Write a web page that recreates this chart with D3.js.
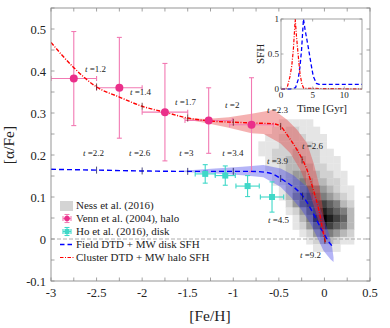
<!DOCTYPE html>
<html>
<head>
<meta charset="utf-8">
<script src="https://cdn.jsdelivr.net/npm/d3@7"></script>
<style>
  body { margin: 0; background: #fff; }
  svg text { font-family: "Liberation Serif", "DejaVu Serif", serif; fill: #222; }
</style>
</head>
<body>
<svg id="chart" width="390" height="328"></svg>
<script>
// model tracks in [Fe/H] vs [alpha/Fe]
const redFeh   = [-3, -2.75, -2.5, -2.25, -2, -1.75, -1.5, -1.25, -1, -0.75, -0.55, -0.48, -0.4, -0.3, -0.19, -0.12, -0.06, -0.01, 0.01];
const redAlpha = [0.468, 0.408, 0.362, 0.338, 0.316, 0.302, 0.288, 0.281, 0.278, 0.276, 0.274, 0.268, 0.245, 0.212, 0.164, 0.116, 0.068, 0.012, -0.008];
const blueFeh   = [-3, -2.5, -2, -1.5, -1, -0.8, -0.65, -0.55, -0.48, -0.4, -0.34, -0.23, -0.12, -0.025, 0.066, 0.1];
const blueAlpha = [0.166, 0.164, 0.162, 0.161, 0.161, 0.161, 0.159, 0.153, 0.144, 0.133, 0.124, 0.1, 0.06, 0.02, -0.012, -0.02];

// uncertainty bands, upper and lower edges as [feh, alpha]
const redBandUpper = [[-1.55, 0.288], [-1.3, 0.286], [-1.05, 0.29], [-0.8, 0.298], [-0.6, 0.306], [-0.557, 0.308], [-0.41, 0.284], [-0.3, 0.26], [-0.19, 0.228], [-0.117, 0.18], [-0.062, 0.132], [-0.025, 0.084], [0.003, 0.036], [0.019, 0.004]];
const redBandLower = [[-1.55, 0.286], [-1.3, 0.276], [-1.05, 0.265], [-0.8, 0.252], [-0.667, 0.25], [-0.484, 0.228], [-0.374, 0.204], [-0.264, 0.164], [-0.172, 0.116], [-0.1, 0.068], [-0.044, 0.028], [0.003, -0.004]];
const blueBandUpper = [[-1.6, 0.162], [-1.2, 0.168], [-0.9, 0.172], [-0.67, 0.176], [-0.48, 0.168], [-0.34, 0.152], [-0.19, 0.124], [-0.08, 0.092], [-0.01, 0.052], [0.05, 0.012], [0.085, -0.02], [0.1, -0.044]];
const blueBandLower = [[-1.6, 0.16], [-1.2, 0.156], [-0.9, 0.152], [-0.67, 0.147], [-0.48, 0.124], [-0.37, 0.1], [-0.26, 0.072], [-0.15, 0.036], [-0.08, 0.004], [-0.01, -0.028], [0.066, -0.048], [0.1, -0.055]];

// time markers along the tracks
const redMarkFeh  = [-2.5, -2, -1.5, -1, -0.48, -0.245, 0.005];
const blueMarkFeh = [-2.5, -2, -1.5, -1, -0.48, -0.24];
const redLabels  = [["1.2", -2.627, 0.398], ["1.4", -2.133, 0.343], ["1.7", -1.639, 0.319], ["2", -1.09, 0.312], ["2.3", -0.63, 0.3], ["2.6", -0.246, 0.214]];
const blueLabels = [["2.2", -2.65, 0.198], ["2.6", -2.143, 0.198], ["3", -1.594, 0.198], ["3.4", -1.12, 0.198], ["3.9", -0.63, 0.179], ["4.5", -0.619, 0.038], ["9.2", -0.268, -0.045]];

// Venn et al. (2004), halo
const vennFeh   = [-2.75, -2.25, -1.75, -1.27, -0.8];
const vennAlpha = [0.382, 0.36, 0.302, 0.282, 0.272];
const vennXerr  = [0.25, 0.25, 0.25, 0.26, 0.24];
const vennYerr  = [0.112, 0.12, 0.116, 0.078, 0.112];

// Ho et al. (2016), disk
const hoFeh   = [-1.308, -1.088, -0.843, -0.575];
const hoAlpha = [0.155, 0.151, 0.126, 0.1];
const hoXerr  = [0.11, 0.11, 0.128, 0.128];
const hoYerr  = [0.022, 0.023, 0.025, 0.036];

// Ness et al. (2016) density, rows from high to low [alpha/Fe]
const nessFeh0 = -0.8, nessDFeh = 0.075;
const nessAlpha0 = 0.285, nessDAlpha = 0.0175;
const nessGrid = [
  [0,0,0,0,1,1,1,1,1,0,0,0,0,0,0],
  [0,0,0,1,1,2,2,1,1,1,0,0,0,0,0],
  [0,0,1,1,2,2,2,2,1,1,1,0,0,0,0],
  [0,1,1,1,2,2,2,2,2,1,1,0,0,0,0],
  [0,1,1,2,2,2,3,2,2,2,1,1,0,0,0],
  [0,0,1,2,2,3,3,3,2,2,1,1,1,0,0],
  [0,0,1,1,2,3,3,3,3,2,2,1,1,0,0],
  [0,0,0,1,2,3,4,4,3,3,2,2,1,1,0],
  [0,0,0,1,2,3,4,5,4,3,3,2,2,1,0],
  [0,0,0,0,1,3,4,5,6,5,4,3,2,1,1],
  [0,0,0,0,1,3,5,6,7,6,5,4,3,2,1],
  [0,0,0,0,0,2,4,6,7,7,7,6,5,3,2],
  [0,0,0,0,0,1,2,4,6,7,8,7,6,5,3],
  [0,0,0,0,0,0,1,3,5,8,9,8,7,6,3],
  [0,0,0,0,0,0,1,2,4,6,8,7,6,5,3],
  [0,0,0,0,0,0,0,1,2,4,5,5,4,3,2],
  [0,0,0,0,0,0,0,0,1,2,3,3,2,1,1],
  [0,0,0,0,0,0,0,0,0,1,1,1,1,0,0]
];

// inset: star formation histories
const sfhRedT   = [0, 0.7, 1.0, 1.4, 1.7, 1.95, 2.15, 2.25, 2.45, 2.7, 3.0, 3.3, 3.6, 12.8];
const sfhRed    = [0, 0, 0.03, 0.17, 0.33, 0.56, 0.85, 1.0, 0.75, 0.5, 0.22, 0.07, 0.01, 0];
const sfhBlueT  = [0, 1.5, 2.3, 2.7, 3.0, 3.25, 3.55, 3.8, 4.3, 4.8, 5.1, 5.6, 6.0, 12.8];
const sfhBlue   = [0, 0, 0.02, 0.13, 0.32, 0.56, 1.0, 0.85, 0.6, 0.33, 0.18, 0.08, 0.065, 0.065];

const xTicks = d3.range(-3, 0.501, 0.25);
const yTicks = d3.range(-0.1, 0.551, 0.05);
const xLabels = [-3, -2.5, -2, -1.5, -1, -0.5, 0, 0.5];
const yLabels = [-0.1, 0, 0.1, 0.2, 0.3, 0.4, 0.5];

const legendItems = ["Ness et al. (2016)", "Venn et al. (2004), halo", "Ho et al. (2016), disk", "Field DTD + MW disk SFH", "Cluster DTD + MW halo SFH"];

const RED = "#ff0000", BLUE = "#0000ff", PINK = "#ea2f8a", PINK_BAR = "#f27ab3", TEAL = "#3fd8c8", FRAME = "#8a8a8a";

const svg = d3.select("#chart");
const x = d3.scaleLinear().domain([-3, 0.5]).range([51, 370]);
const y = d3.scaleLinear().domain([-0.1, 0.55]).range([281, 8]);

svg.append("defs").append("clipPath").attr("id", "plotclip")
  .append("rect").attr("x", 51).attr("y", 8).attr("width", 319).attr("height", 273);
const plot = svg.append("g").attr("clip-path", "url(#plotclip)");

// heat map
const cells = [];
nessGrid.forEach((row, i) => row.forEach((v, j) => {
  if (v > 0) cells.push({ i, j, v });
}));
plot.selectAll("rect.cell").data(cells).enter().append("rect")
  .attr("class", "cell")
  .attr("x", d => x(nessFeh0 + d.j * nessDFeh))
  .attr("y", d => y(nessAlpha0 - d.i * nessDAlpha))
  .attr("width", d => x(nessFeh0 + (d.j + 1) * nessDFeh) - x(nessFeh0 + d.j * nessDFeh) + 0.3)
  .attr("height", d => y(nessAlpha0 - (d.i + 1) * nessDAlpha) - y(nessAlpha0 - d.i * nessDAlpha) + 0.3)
  .attr("fill", d => d3.interpolateGreys(0.08 + 0.92 * d.v / 9));

// zero line
plot.append("line")
  .attr("x1", x(-3)).attr("x2", x(0.5)).attr("y1", y(0)).attr("y2", y(0))
  .attr("stroke", "#9a9a9a").attr("stroke-width", 0.8).attr("stroke-dasharray", "4,2");

// bands
const poly = d3.line().x(d => x(d[0])).y(d => y(d[1]));
plot.append("path")
  .attr("d", poly(blueBandUpper.concat(blueBandLower.slice().reverse())) + "Z")
  .attr("fill", "rgb(70,70,235)").attr("fill-opacity", 0.4);
plot.append("path")
  .attr("d", poly(redBandUpper.concat(redBandLower.slice().reverse())) + "Z")
  .attr("fill", "rgb(232,70,70)").attr("fill-opacity", 0.42);

// error bars helper
function errorBars(g, fehs, alphas, xe, ye, color) {
  fehs.forEach((f, k) => {
    const a = alphas[k];
    const segs = [
      [x(f - xe[k]), y(a), x(f + xe[k]), y(a)],
      [x(f), y(a - ye[k]), x(f), y(a + ye[k])],
      [x(f - xe[k]), y(a) - 2.5, x(f - xe[k]), y(a) + 2.5],
      [x(f + xe[k]), y(a) - 2.5, x(f + xe[k]), y(a) + 2.5],
      [x(f) - 2.5, y(a - ye[k]), x(f) + 2.5, y(a - ye[k])],
      [x(f) - 2.5, y(a + ye[k]), x(f) + 2.5, y(a + ye[k])]
    ];
    segs.forEach(s => g.append("line")
      .attr("x1", s[0]).attr("y1", s[1]).attr("x2", s[2]).attr("y2", s[3])
      .attr("stroke", color).attr("stroke-width", 1.1));
  });
}
errorBars(plot, hoFeh, hoAlpha, hoXerr, hoYerr, TEAL);
errorBars(plot, vennFeh, vennAlpha, vennXerr, vennYerr, PINK_BAR);

// model curves
const curve = d3.line().x(d => x(d[0])).y(d => y(d[1])).curve(d3.curveMonotoneX);
plot.append("path").datum(d3.zip(blueFeh, blueAlpha)).attr("d", curve)
  .attr("fill", "none").attr("stroke", BLUE).attr("stroke-width", 1.4).attr("stroke-dasharray", "5,3");
plot.append("path").datum(d3.zip(redFeh, redAlpha)).attr("d", curve)
  .attr("fill", "none").attr("stroke", RED).attr("stroke-width", 1.4).attr("stroke-dasharray", "4,1.5,1,1.5");

// markers
plot.selectAll("circle.venn").data(d3.zip(vennFeh, vennAlpha)).enter().append("circle")
  .attr("cx", d => x(d[0])).attr("cy", d => y(d[1])).attr("r", 4).attr("fill", PINK);
plot.selectAll("rect.ho").data(d3.zip(hoFeh, hoAlpha)).enter().append("rect")
  .attr("x", d => x(d[0]) - 3).attr("y", d => y(d[1]) - 3).attr("width", 6).attr("height", 6).attr("fill", TEAL);

// time markers on tracks
const interp = (xs, ys, v) => {
  const k = Math.max(1, Math.min(xs.length - 1, d3.bisectLeft(xs, v)));
  const t = (v - xs[k - 1]) / (xs[k] - xs[k - 1]);
  return ys[k - 1] + t * (ys[k] - ys[k - 1]);
};
redMarkFeh.forEach(f => plot.append("line")
  .attr("x1", x(f)).attr("x2", x(f)).attr("y1", y(interp(redFeh, redAlpha, f)) - 3.5).attr("y2", y(interp(redFeh, redAlpha, f)) + 3.5)
  .attr("stroke", "#5a1a1a").attr("stroke-width", 0.8));
blueMarkFeh.forEach(f => plot.append("line")
  .attr("x1", x(f)).attr("x2", x(f)).attr("y1", y(interp(blueFeh, blueAlpha, f)) - 3.5).attr("y2", y(interp(blueFeh, blueAlpha, f)) + 3.5)
  .attr("stroke", "#1a1a5a").attr("stroke-width", 0.8));

// time labels
function timeLabel(d) {
  const t = svg.append("text").attr("x", x(d[1])).attr("y", y(d[2])).attr("font-size", 9);
  t.append("tspan").attr("font-style", "italic").text("t");
  t.append("tspan").text(" =" + d[0]);
}
redLabels.forEach(timeLabel);
blueLabels.forEach(timeLabel);

// frame and ticks
svg.append("rect").attr("x", 51).attr("y", 8).attr("width", 319).attr("height", 273)
  .attr("fill", "none").attr("stroke", FRAME).attr("stroke-width", 0.9);
xTicks.forEach(v => {
  svg.append("line").attr("x1", x(v)).attr("x2", x(v)).attr("y1", 281).attr("y2", 277.5).attr("stroke", FRAME).attr("stroke-width", 0.8);
  svg.append("line").attr("x1", x(v)).attr("x2", x(v)).attr("y1", 8).attr("y2", 11.5).attr("stroke", FRAME).attr("stroke-width", 0.8);
});
yTicks.forEach(v => {
  svg.append("line").attr("x1", 51).attr("x2", 54.5).attr("y1", y(v)).attr("y2", y(v)).attr("stroke", FRAME).attr("stroke-width", 0.8);
  svg.append("line").attr("x1", 370).attr("x2", 366.5).attr("y1", y(v)).attr("y2", y(v)).attr("stroke", FRAME).attr("stroke-width", 0.8);
});
xLabels.forEach(v => svg.append("text").attr("x", x(v)).attr("y", 297)
  .attr("text-anchor", "middle").attr("font-size", 12.5).text(d3.format("")(v).replace("−", "-")));
yLabels.forEach(v => svg.append("text").attr("x", 46).attr("y", y(v) + 4.5)
  .attr("text-anchor", "end").attr("font-size", 12.5).text(d3.format("")(v).replace("−", "-")));

svg.append("text").attr("x", 210).attr("y", 321).attr("text-anchor", "middle").attr("font-size", 15.5).text("[Fe/H]");
svg.append("text").attr("transform", "translate(14,145) rotate(-90)").attr("text-anchor", "middle").attr("font-size", 15.5)
  .text("[α/Fe]");

// legend
const legY = [205.5, 218.5, 231.5, 244.5, 257.5];
svg.append("rect").attr("x", 60).attr("y", 201).attr("width", 13).attr("height", 10).attr("fill", "#d4d4d4");
errorBars(svg, [x.invert(67)], [y.invert(legY[1])], [x.invert(71) - x.invert(67)], [y.invert(legY[1] - 4) - y.invert(legY[1])], PINK_BAR);
svg.append("circle").attr("cx", 67).attr("cy", legY[1]).attr("r", 2.8).attr("fill", PINK);
errorBars(svg, [x.invert(67)], [y.invert(legY[2])], [x.invert(71) - x.invert(67)], [y.invert(legY[2] - 4) - y.invert(legY[2])], TEAL);
svg.append("rect").attr("x", 64.5).attr("y", legY[2] - 2.5).attr("width", 5).attr("height", 5).attr("fill", TEAL);
svg.append("line").attr("x1", 60).attr("x2", 75).attr("y1", legY[3]).attr("y2", legY[3])
  .attr("stroke", BLUE).attr("stroke-width", 1.4).attr("stroke-dasharray", "4.5,3");
svg.append("line").attr("x1", 60).attr("x2", 75).attr("y1", legY[4]).attr("y2", legY[4])
  .attr("stroke", RED).attr("stroke-width", 1.2).attr("stroke-dasharray", "3.5,1.5,1,1.5");
legendItems.forEach((s, k) => svg.append("text").attr("x", 76).attr("y", legY[k] + 3.8)
  .attr("font-size", 11).text(s));

// inset
const ix = d3.scaleLinear().domain([0, 12.8]).range([281, 362]);
const iy = d3.scaleLinear().domain([0, 1]).range([89, 19]);
svg.append("rect").attr("x", 281).attr("y", 19).attr("width", 81).attr("height", 70).attr("fill", "#fff");
const iline = d3.line().x(d => ix(d[0])).y(d => iy(d[1]));
svg.append("path").datum(d3.zip(sfhBlueT, sfhBlue)).attr("d", iline)
  .attr("fill", "none").attr("stroke", BLUE).attr("stroke-width", 1.3).attr("stroke-dasharray", "4,2.5");
svg.append("path").datum(d3.zip(sfhRedT, sfhRed)).attr("d", iline)
  .attr("fill", "none").attr("stroke", RED).attr("stroke-width", 1.2).attr("stroke-dasharray", "3.5,1.5,1,1.5");
svg.append("rect").attr("x", 281).attr("y", 19).attr("width", 81).attr("height", 70)
  .attr("fill", "none").attr("stroke", FRAME).attr("stroke-width", 0.8);
[0, 5, 10].forEach(v => {
  svg.append("line").attr("x1", ix(v)).attr("x2", ix(v)).attr("y1", 89).attr("y2", 86.5).attr("stroke", FRAME).attr("stroke-width", 0.7);
  svg.append("line").attr("x1", ix(v)).attr("x2", ix(v)).attr("y1", 19).attr("y2", 21.5).attr("stroke", FRAME).attr("stroke-width", 0.7);
  svg.append("text").attr("x", ix(v)).attr("y", 98).attr("text-anchor", "middle").attr("font-size", 9).text(v);
});
[0, 0.5, 1].forEach(v => {
  svg.append("line").attr("x1", 281).attr("x2", 283.5).attr("y1", iy(v)).attr("y2", iy(v)).attr("stroke", FRAME).attr("stroke-width", 0.7);
  svg.append("line").attr("x1", 362).attr("x2", 359.5).attr("y1", iy(v)).attr("y2", iy(v)).attr("stroke", FRAME).attr("stroke-width", 0.7);
  svg.append("text").attr("x", 279).attr("y", iy(v) + 3).attr("text-anchor", "end").attr("font-size", 9).text(v);
});
svg.append("text").attr("x", 322).attr("y", 112).attr("text-anchor", "middle").attr("font-size", 11).text("Time [Gyr]");
svg.append("text").attr("transform", "translate(264,54) rotate(-90)").attr("text-anchor", "middle").attr("font-size", 11).text("SFH");
</script>
</body>
</html>
